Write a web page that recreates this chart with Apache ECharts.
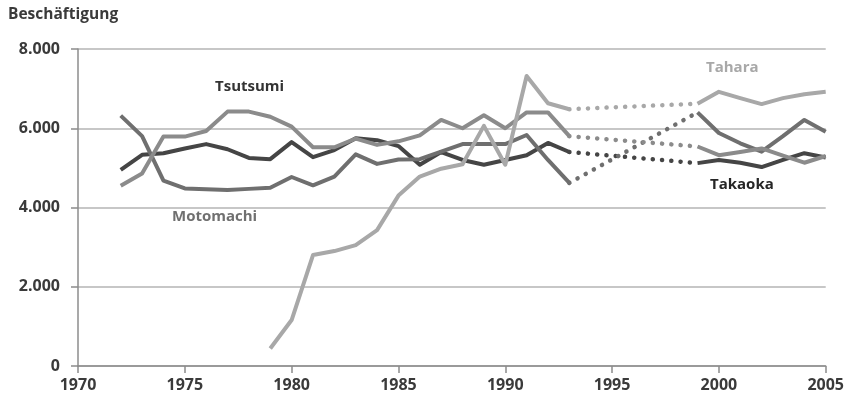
<!DOCTYPE html>
<html>
<head>
<meta charset="utf-8">
<script src="https://cdn.jsdelivr.net/npm/echarts@6/dist/echarts.min.js"></script>
<style>
  html, body { margin: 0; padding: 0; background: #fff; }
  #chart { width: 847px; height: 401px; }
</style>
</head>
<body>
<div id="chart"></div>
<script>
// Jahre vor und nach der Datenlücke
const yearsA = [1972, 1973, 1974, 1975, 1976, 1977, 1978, 1979, 1980, 1981, 1982,
                1983, 1984, 1985, 1986, 1987, 1988, 1989, 1990, 1991, 1992, 1993];
const yearsB = [1999, 2000, 2001, 2002, 2003, 2004, 2005];

// Beschäftigte je Werk
const takaokaA   = [4950, 5330, 5370, 5490, 5600, 5470, 5250, 5220, 5650, 5270, 5450,
                    5750, 5700, 5550, 5080, 5400, 5200, 5080, 5200, 5320, 5630, 5400];
const motomachiA = [6320, 5800, 4680, 4480, 4460, 4440, 4470, 4500, 4770, 4560, 4780,
                    5340, 5100, 5210, 5220, 5410, 5600, 5600, 5600, 5830, 5200, 4620];
const tsutsumiA  = [4550, 4860, 5790, 5790, 5930, 6420, 6420, 6290, 6040, 5520, 5520,
                    5740, 5580, 5670, 5820, 6210, 6000, 6330, 6000, 6400, 6400, 5800];
const taharaA    = [null, null, null, null, null, null, null, 440, 1160, 2800, 2900,
                    3050, 3430, 4300, 4780, 4980, 5090, 6060, 5080, 7320, 6630, 6480];

const takaokaB   = [5120, 5200, 5130, 5020, 5200, 5370, 5260];
const motomachiB = [6400, 5880, 5620, 5410, 5800, 6210, 5910];
const tsutsumiB  = [5540, 5320, 5400, 5490, 5310, 5130, 5300];
const taharaB    = [6620, 6920, 6760, 6610, 6760, 6860, 6920];

const yTicks = [0, 2000, 4000, 6000, 8000];

const plants = [
  { name: 'Takaoka',   color: '#454545', a: takaokaA,   b: takaokaB },
  { name: 'Motomachi', color: '#6f6f6f', a: motomachiA, b: motomachiB },
  { name: 'Tsutsumi',  color: '#8b8b8b', a: tsutsumiA,  b: tsutsumiB },
  { name: 'Tahara',    color: '#a8a8a8', a: taharaA,    b: taharaB }
];

function solidData(p) {
  let d = [];
  yearsA.forEach((y, i) => { if (p.a[i] != null) d.push([y, p.a[i]]); });
  d.push([1996, '-']);
  yearsB.forEach((y, i) => d.push([y, p.b[i]]));
  return d;
}

let series = [];
plants.forEach(p => {
  series.push({
    name: p.name, type: 'line', showSymbol: false, symbol: 'none',
    data: solidData(p),
    lineStyle: { color: p.color, width: 4, join: 'round' },
    silent: true
  });
  series.push({
    name: p.name + ' Lücke', type: 'line', showSymbol: false, symbol: 'none',
    data: [[yearsA[yearsA.length - 1], p.a[p.a.length - 1]], [yearsB[0], p.b[0]]],
    lineStyle: { color: p.color, width: 4.5, type: [0.1, 9.2], cap: 'round' },
    silent: true
  });
});

const fontFam = '"Open Sans", Lato, sans-serif';

let chart = echarts.init(document.getElementById('chart'));
chart.setOption({
  animation: false,
  grid: { left: 78, right: 21, top: 49, bottom: 35 },
  xAxis: {
    type: 'value', min: 1970, max: 2005, interval: 5,
    axisLine: { lineStyle: { color: '#8c8c8c', width: 1.5 } },
    axisTick: { show: true, length: 7, lineStyle: { color: '#8c8c8c', width: 1.5 } },
    splitLine: { show: false },
    axisLabel: {
      color: '#3a3a3a', fontSize: 16, fontWeight: 'bold', fontFamily: fontFam, margin: 11,
      formatter: v => String(v)
    }
  },
  yAxis: {
    type: 'value', min: yTicks[0], max: yTicks[yTicks.length - 1], interval: 2000,
    axisLine: { show: true, lineStyle: { color: '#8c8c8c', width: 1.5 } },
    axisTick: { show: true, length: 7, lineStyle: { color: '#8c8c8c', width: 1.5 } },
    splitLine: { lineStyle: { color: '#b4b4b4', width: 1.5 } },
    axisLabel: {
      color: '#3a3a3a', fontSize: 16, fontWeight: 'bold', fontFamily: fontFam, margin: 18,
      formatter: v => v === 0 ? '0' : String(v).replace(/\B(?=(\d{3})+(?!\d))/g, '.')
    }
  },
  graphic: [
    { type: 'text', left: 8, top: 7,
      style: { text: 'Beschäftigung', fill: '#3a3a3a', font: 'bold 15.5px ' + fontFam } },
    { type: 'text', left: 215, top: 79,
      style: { text: 'Tsutsumi', fill: '#333333', font: 'bold 15px ' + fontFam } },
    { type: 'text', left: 172, top: 209,
      style: { text: 'Motomachi', fill: '#707070', font: 'bold 15px ' + fontFam } },
    { type: 'text', left: 706, top: 60,
      style: { text: 'Tahara', fill: '#a8a8a8', font: 'bold 15px ' + fontFam } },
    { type: 'text', left: 710, top: 177,
      style: { text: 'Takaoka', fill: '#262626', font: 'bold 15px ' + fontFam } }
  ],
  series: series
});
</script>
</body>
</html>
